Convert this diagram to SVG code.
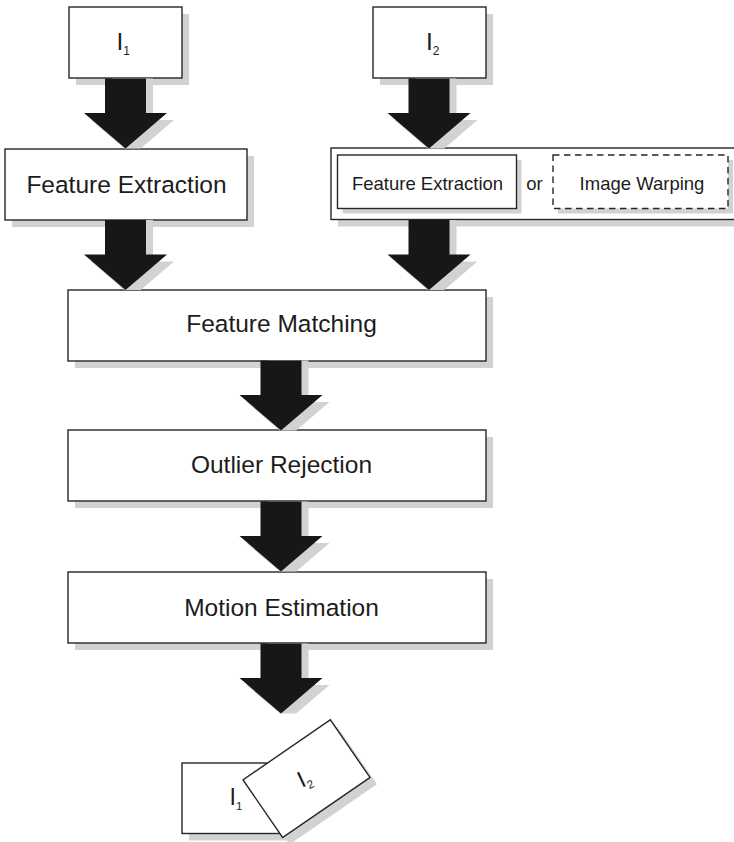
<svg xmlns="http://www.w3.org/2000/svg" xmlns:xlink="http://www.w3.org/1999/xlink" width="734" height="842" viewBox="0 0 734 842">
<style>
.box{fill:#fff;stroke:#262626;stroke-width:1.4}
.dash{fill:#fff;stroke:#262626;stroke-width:1.4;stroke-dasharray:6.5 4.5}
.sh{fill:#d2d2d2}
.ar{fill:#171717}
.t{font-family:"Liberation Sans",Arial,Helvetica,sans-serif;fill:#1c1c1c}
.big{font-size:24.5px;text-anchor:middle}
.small{font-size:18.5px;text-anchor:middle}
</style>
<defs>
<g id="arr">
<polygon class="sh" points="-13.5,0 27.5,0 27.5,41.5 48.5,41.5 15.2,70 -1.2,70 -34.5,41.5 -13.5,41.5"/>
<polygon class="ar" points="-20.5,0 20.5,0 20.5,34.5 41.5,34.5 0,70 -41.5,34.5 -20.5,34.5"/>
</g>
</defs>
<rect width="734" height="842" fill="#fff"/>

<g id="node-I1">
<rect class="sh" x="76" y="14" width="113" height="71"/>
<rect class="box" x="69" y="7" width="113" height="71"/>
<text class="t" x="116.5" y="50" font-size="24.5">I<tspan font-size="12" dy="5">1</tspan></text>
</g>

<g id="node-I2">
<rect class="sh" x="380" y="14" width="113" height="71"/>
<rect class="box" x="373" y="7" width="113" height="71"/>
<text class="t" x="426" y="50" font-size="24.5">I<tspan font-size="12" dy="5">2</tspan></text>
</g>

<g id="node-fe1">
<rect class="sh" x="12" y="156" width="242" height="71"/>
<rect class="box" x="5" y="149" width="242" height="71"/>
<text class="t big" x="126.5" y="193">Feature Extraction</text>
</g>

<g id="node-fe2">
<rect class="sh" x="338" y="155" width="410" height="71.5"/>
<rect class="box" x="331" y="148" width="410" height="71.5"/>
<g id="node-fe2-extract">
<rect class="sh" x="342.5" y="160" width="179" height="53.5"/>
<rect class="box" x="337.5" y="155" width="179" height="53.5"/>
<text class="t small" x="427.5" y="190">Feature Extraction</text>
</g>
<text class="t small" x="534.5" y="190">or</text>
<g id="node-fe2-warp">
<rect class="sh" x="558" y="160" width="175" height="53.5"/>
<rect class="dash" x="553" y="155" width="175" height="53.5"/>
<text class="t small" x="642" y="190">Image Warping</text>
</g>
</g>

<g id="node-match">
<rect class="sh" x="75" y="297" width="418" height="71"/>
<rect class="box" x="68" y="290" width="418" height="71"/>
<text class="t big" x="281.5" y="332">Feature Matching</text>
</g>

<g id="node-outlier">
<rect class="sh" x="75" y="437" width="418" height="71"/>
<rect class="box" x="68" y="430" width="418" height="71"/>
<text class="t big" x="281.5" y="473">Outlier Rejection</text>
</g>

<g id="node-motion">
<rect class="sh" x="75" y="579" width="418" height="71"/>
<rect class="box" x="68" y="572" width="418" height="71"/>
<text class="t big" x="281.5" y="616">Motion Estimation</text>
</g>

<g id="node-result">
<rect class="sh" x="189" y="770" width="105" height="70.5"/>
<rect class="sh" x="-53" y="-35" width="106" height="70" transform="translate(313.5,785.5) rotate(-34.5)"/>
<rect class="box" x="182" y="763" width="105" height="70.5"/>
<text class="t" x="229.5" y="805" font-size="23">I<tspan font-size="11.5" dy="4.5">1</tspan></text>
<rect class="box" x="-53" y="-35" width="106" height="70" transform="translate(306.5,778.7) rotate(-34.5)"/>
<text class="t" x="-7" y="8.5" font-size="23" transform="translate(304.4,777.3) rotate(-25)">I<tspan font-size="11.5" dy="4.5">2</tspan></text>
</g>

<g id="connectors">
<use xlink:href="#arr" x="125.5" y="78.5"/>
<use xlink:href="#arr" x="429" y="78.5"/>
<use xlink:href="#arr" x="125.5" y="220"/>
<use xlink:href="#arr" x="429" y="220"/>
<use xlink:href="#arr" x="281" y="360.5"/>
<use xlink:href="#arr" x="281" y="501.5"/>
<use xlink:href="#arr" x="281" y="643.5"/>
</g>
</svg>
